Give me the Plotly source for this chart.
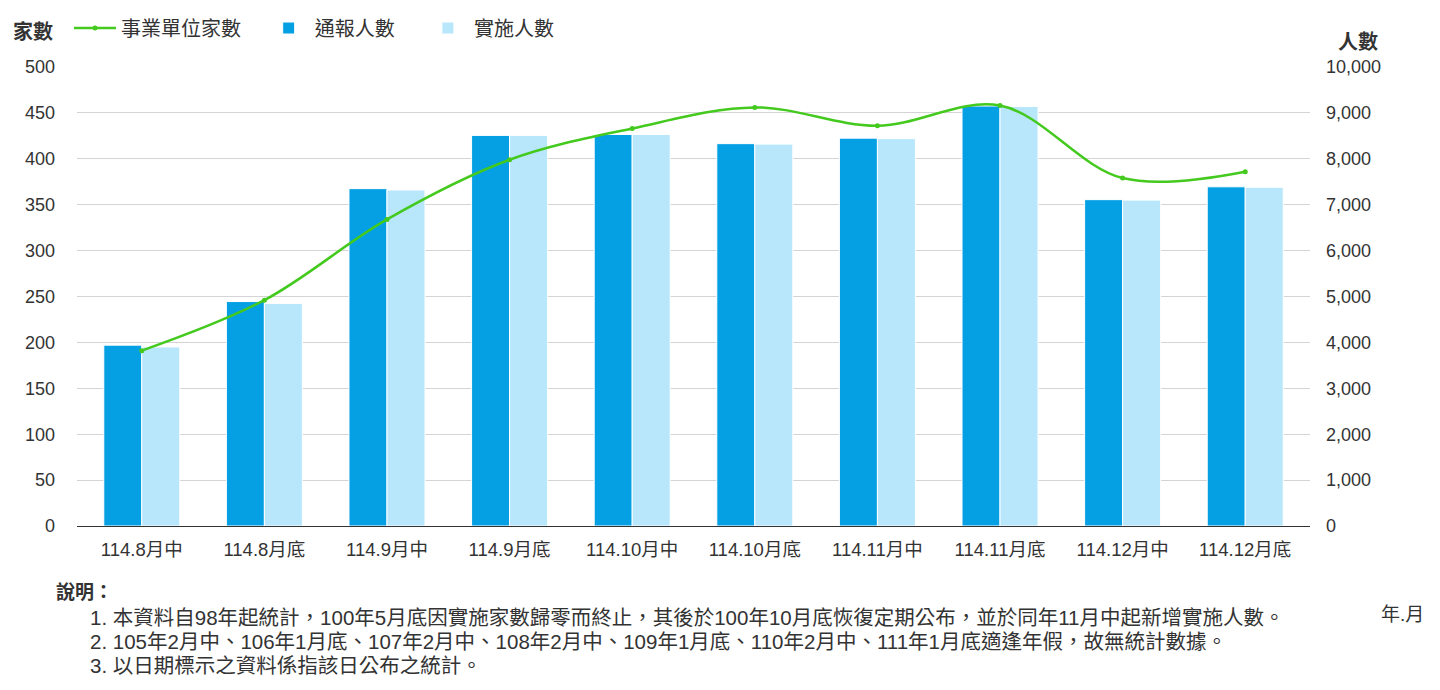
import plotly.graph_objects as go

categories = ["114.8月中", "114.8月底", "114.9月中", "114.9月底", "114.10月中",
              "114.10月底", "114.11月中", "114.11月底", "114.12月中", "114.12月底"]
units = [191, 246, 334, 399, 433, 456, 436, 458, 379, 386]          # 事業單位家數
reported = [3940, 4890, 7350, 8510, 8530, 8330, 8450, 9150, 7110, 7390]  # 通報人數
implemented = [3900, 4850, 7320, 8510, 8530, 8320, 8440, 9140, 7100, 7380]  # 實施人數

notes_title = "說明："
notes = [
    "1. 本資料自98年起統計，100年5月底因實施家數歸零而終止，其後於100年10月底恢復定期公布，並於同年11月中起新增實施人數。",
    "2. 105年2月中、106年1月底、107年2月中、108年2月中、109年1月底、110年2月中、111年1月底適逢年假，故無統計數據。",
    "3. 以日期標示之資料係指該日公布之統計。",
]

FONT = "Liberation Sans, Noto Sans CJK TC, sans-serif"
TXT = "#333333"
NB = "\u00a0"

fig = go.Figure()
fig.add_trace(go.Scatter(
    x=categories, y=units, name="事業單位家數" + NB * 3, yaxis="y2",
    mode="lines+markers", line=dict(color="#44C91E", width=2.5, shape="spline", smoothing=1),
    marker=dict(size=5, color="#44C91E"),
))
fig.add_trace(go.Bar(
    x=categories, y=reported, name="通報人數" + NB * 4, yaxis="y",
    marker=dict(color="#05A0E4", line=dict(color="white", width=1)),
))
fig.add_trace(go.Bar(
    x=categories, y=implemented, name="實施人數", yaxis="y",
    marker=dict(color="#B8E6FB", line=dict(color="white", width=1)),
))

W, H = 1440, 690
L, R, T, B = 77, 130, 67, 164
pw, ph = W - L - R, H - T - B

def px(x):
    return (x - L) / pw

def py(y):
    return (H - B - y) / ph

fig.update_layout(
    width=W, height=H,
    margin=dict(l=L, r=R, t=T, b=B, autoexpand=False),
    paper_bgcolor="white", plot_bgcolor="white",
    font=dict(family=FONT, size=18, color=TXT),
    barmode="group", bargap=0.38, bargroupgap=0,
    showlegend=True,
    legend=dict(orientation="h", x=px(69), xanchor="left", y=py(28), yanchor="middle",
                font=dict(size=20, color=TXT), traceorder="normal", itemwidth=42,
                bgcolor="rgba(0,0,0,0)"),
    xaxis=dict(showgrid=False, showline=True, linecolor="#333333", linewidth=1,
               ticks="", tickfont=dict(size=18.5, color=TXT), ticklabelstandoff=7,
               fixedrange=True),
    yaxis=dict(side="right", range=[0, 10000], dtick=1000, tickformat=",",
               showgrid=True, gridcolor="#D4D4D4", gridwidth=1, zeroline=False,
               tickfont=dict(size=18, color=TXT), ticklabelstandoff=15),
    yaxis2=dict(side="left", overlaying="y", range=[0, 500], dtick=50,
                showgrid=False, zeroline=False,
                tickfont=dict(size=18, color=TXT), ticklabelstandoff=21),
)

ann = [
    dict(text="<b>家數</b>", x=px(33), y=py(31), xanchor="center", yanchor="middle", font=dict(size=20)),
    dict(text="<b>人數</b>", x=px(1358), y=py(42), xanchor="center", yanchor="middle", font=dict(size=20)),
    dict(text="<b>" + notes_title + "</b>", x=px(54), y=py(592), xanchor="left", yanchor="middle", font=dict(size=19)),
    dict(text="年.月", x=px(1402), y=py(614), xanchor="center", yanchor="middle", font=dict(size=19)),
]
for i, n in enumerate(notes):
    ann.append(dict(text=n, x=px(88), y=py(617 + 24 * i), xanchor="left", yanchor="middle", font=dict(size=20.5)))
for a in ann:
    a.update(xref="paper", yref="paper", showarrow=False)
fig.update_layout(annotations=ann)

fig.write_html("out.html", config={"displayModeBar": False},
               post_script="document.body.style.margin='0';")
